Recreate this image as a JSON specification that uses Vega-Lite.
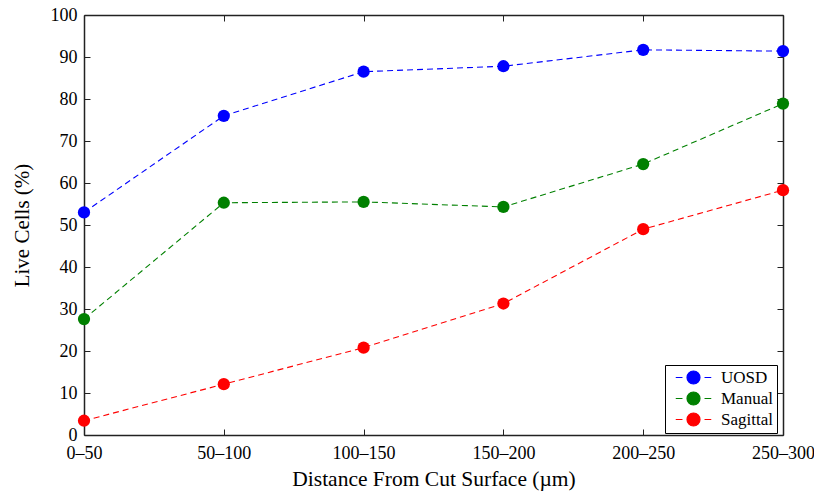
{
  "$schema": "https://vega.github.io/schema/vega-lite/v6.json",
  "autosize": "none",
  "width": 699,
  "height": 420,
  "padding": {"left": 84, "top": 15, "right": 31, "bottom": 57},
  "background": "white",
  "config": {
    "font": "Liberation Serif",
    "view": {"stroke": null},
    "axis": {
      "labelFont": "Liberation Serif",
      "titleFont": "Liberation Serif",
      "labelFontSize": 18,
      "titleFontSize": 21,
      "titleFontWeight": "normal",
      "labelColor": "black",
      "titleColor": "black",
      "domainColor": "#222",
      "domainWidth": 1.5,
      "tickColor": "#222",
      "tickWidth": 1,
      "tickSize": -6,
      "grid": false
    }
  },
  "data": {
    "values": [
      {"d": "0–50", "s": "UOSD", "v": 53.0},
      {"d": "50–100", "s": "UOSD", "v": 76.0},
      {"d": "100–150", "s": "UOSD", "v": 86.5},
      {"d": "150–200", "s": "UOSD", "v": 87.8},
      {"d": "200–250", "s": "UOSD", "v": 91.7},
      {"d": "250–300", "s": "UOSD", "v": 91.4},
      {"d": "0–50", "s": "Manual", "v": 27.6},
      {"d": "50–100", "s": "Manual", "v": 55.3},
      {"d": "100–150", "s": "Manual", "v": 55.5},
      {"d": "150–200", "s": "Manual", "v": 54.3},
      {"d": "200–250", "s": "Manual", "v": 64.5},
      {"d": "250–300", "s": "Manual", "v": 78.9},
      {"d": "0–50", "s": "Sagittal", "v": 3.4},
      {"d": "50–100", "s": "Sagittal", "v": 12.1},
      {"d": "100–150", "s": "Sagittal", "v": 20.8},
      {"d": "150–200", "s": "Sagittal", "v": 31.3},
      {"d": "200–250", "s": "Sagittal", "v": 49.0},
      {"d": "250–300", "s": "Sagittal", "v": 58.3}
    ]
  },
  "layer": [
    {
      "mark": {"type": "line", "strokeDash": [6, 4], "strokeWidth": 1.1, "clip": false},
      "encoding": {
        "x": {"field": "d", "type": "ordinal", "sort": null,
              "scale": {"type": "point", "padding": 0},
              "axis": {"orient": "bottom", "title": "Distance From Cut Surface (µm)", "labelAngle": 0, "labelFontSize": 18, "titleFontSize": 21.5, "labelPadding": 15, "titlePadding": 6}},
        "y": {"field": "v", "type": "quantitative",
              "scale": {"domain": [0, 100], "nice": false},
              "axis": {"orient": "left", "title": "Live Cells (%)", "values": [0,10,20,30,40,50,60,70,80,90,100], "labelFontSize": 18, "titleFontSize": 21, "labelPadding": 13, "titlePadding": 18}},
        "color": {"field": "s", "type": "nominal",
                  "scale": {"domain": ["UOSD", "Manual", "Sagittal"], "range": ["#0000ff", "#008000", "#ff0000"]}}
      }
    },
    {
      "mark": {"type": "point", "filled": true, "opacity": 1, "size": 150, "clip": false},
      "encoding": {
        "x": {"field": "d", "type": "ordinal", "sort": null,
              "scale": {"type": "point", "padding": 0},
              "axis": {"orient": "top", "title": null, "labels": false}},
        "y": {"field": "v", "type": "quantitative",
              "scale": {"domain": [0, 100], "nice": false},
              "axis": {"orient": "right", "title": null, "labels": false, "values": [0,10,20,30,40,50,60,70,80,90,100]}},
        "color": {"field": "s", "type": "nominal",
                  "scale": {"domain": ["UOSD", "Manual", "Sagittal"], "range": ["#0000ff", "#008000", "#ff0000"]},
                  "legend": {
                    "title": null,
                    "orient": "none",
                    "legendX": 581,
                    "legendY": 350,
                    "direction": "vertical",
                    "fillColor": "white",
                    "strokeColor": "black",
                    "padding": 4,
                    "rowPadding": 2,
                    "labelFont": "Liberation Serif",
                    "labelFontSize": 17,
                    "labelColor": "black",
                    "symbolType": "M-2.9,0H-1.8M1.8,0H2.9M-1.06,0A1.06,1.06 0 1,1 1.06,0A1.06,1.06 0 1,1 -1.06,0Z",
                    "symbolSize": 150,
                    "symbolStrokeWidth": 1.2,
                    "symbolOffset": 16,
                    "labelOffset": 19
                  }}
      }
    }
  ],
  "resolve": {"axis": {"x": "independent", "y": "independent"}}
}
